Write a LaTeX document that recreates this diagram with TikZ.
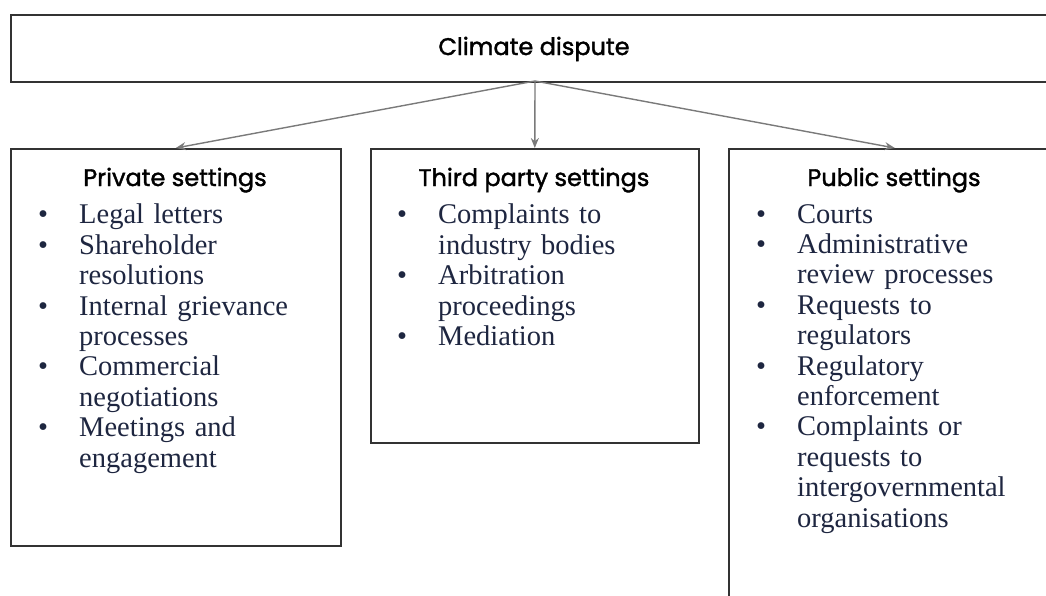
\documentclass[tikz,border=0pt]{standalone}
\usepackage{fontspec}
\setmainfont{Liberation Serif}
\newfontfamily\headfont[FakeBold=1.6]{Poppins}
\usetikzlibrary{arrows.meta,positioning}
\definecolor{bodyblue}{HTML}{1E2640}
\definecolor{arrowgray}{HTML}{7A7A7A}
\definecolor{boxline}{HTML}{333333}
% one bullet item with hanging indent
\newcommand{\bul}[1]{\hangindent=41pt\hangafter=1\noindent\makebox[41pt][l]{\textbullet}#1\par}

\begin{document}
\begin{tikzpicture}[
  x=1pt, y=-1pt,
  box/.style={draw=boxline, line width=1.6pt, anchor=north west,
              inner sep=0pt, fill=white},
  head/.style={font=\headfont\fontsize{24}{29}\selectfont, anchor=base},
  items/.style={anchor=north west, text width=300pt, align=left, inner sep=0pt,
                text=bodyblue, font=\fontsize{28.5}{30.4}\selectfont},
  ar/.style={-{Stealth[length=10pt, width=8pt]}, arrowgray, line width=1.4pt}
]
  \useasboundingbox (0,0) rectangle (1046,595);
  \clip (0,0) rectangle (1046,595);

  \node[box, minimum width=1050pt, minimum height=67pt] (dispute) at (10,14) {};
  \node[head] (disptitle) at (534,55) {Climate dispute};
  \coordinate (hub) at (535,81);

  \node[box, minimum width=330pt, minimum height=397pt] (private) at (10,148) {};
  \node[box, minimum width=328pt, minimum height=294pt] (third)   at (370,148) {};
  \node[box, minimum width=332pt, minimum height=470pt] (public)  at (728,148) {};

  \node[head] (privhead)  at (175,186) {Private settings};
  \node[head] (thirdhead) at (534,186) {Third party settings};
  \node[head] (pubhead)   at (894,186) {Public settings};

  \node[items] (privlist) at (38,204) {%
    \bul{Legal letters}
    \bul{Shareholder\newline resolutions}
    \bul{Internal grievance\newline processes}
    \bul{Commercial\newline negotiations}
    \bul{Meetings and\newline engagement}};
  \node[items] (thirdlist) at (397,204) {%
    \bul{Complaints to\newline industry bodies}
    \bul{Arbitration\newline proceedings}
    \bul{Mediation}};
  \node[items] (publist) at (756,204) {%
    \bul{Courts}
    \bul{Administrative\newline review processes}
    \bul{Requests to\newline regulators}
    \bul{Regulatory\newline enforcement}
    \bul{Complaints or\newline requests to\newline intergovernmental\newline organisations}};

  \draw[ar] (hub) -- (private.north);
  \draw[ar] (hub) -- (third.north);
  \draw[ar] (hub) -- (public.north);
\end{tikzpicture}
\end{document}
